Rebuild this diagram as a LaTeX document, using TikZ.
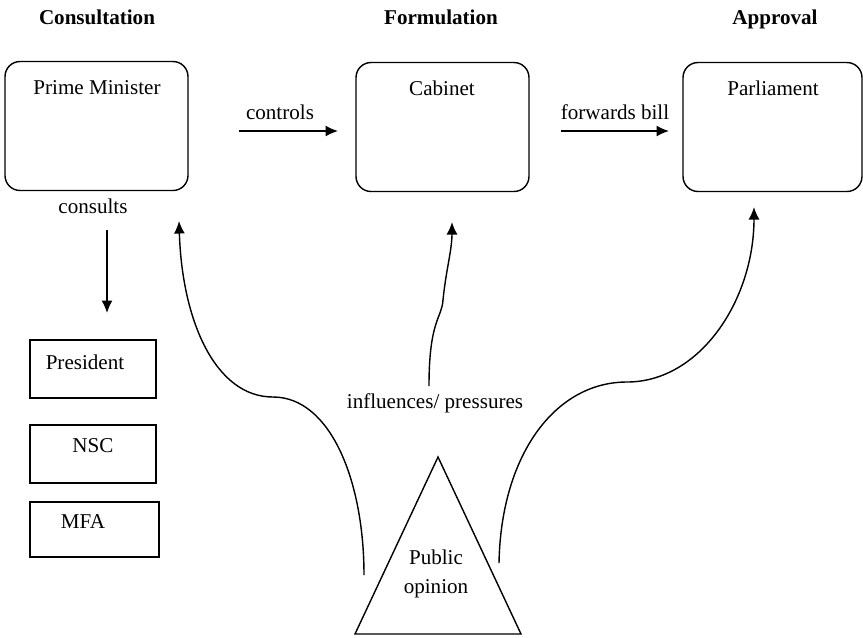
\documentclass[tikz,border=0pt]{standalone}
\usepackage{fontspec}
\setmainfont{Liberation Serif}
\usetikzlibrary{arrows.meta,positioning}

\begin{document}
\begin{tikzpicture}[x=0.02cm,y=-0.02cm,line width=0.8pt,font=\fontsize{12}{14}\selectfont,
        bigbox/.style={draw,rounded corners=0.3cm,minimum height=2.58cm},
        smallbox/.style={draw,minimum width=2.52cm,minimum height=1.16cm},
        head/.style={font=\fontsize{12}{14}\selectfont\bfseries,anchor=base},
        arr/.style={-{Latex[length=2.5mm,width=2.2mm]}}]%
        \useasboundingbox (0,0) rectangle (863,637); %%
        %% stage headings
        \node[head] (hcon) at (97,24)  {Consultation}; %%
        \node[head] (hfor) at (441,24)  {Formulation}; %%
        \node[head] (happ) at (775,24)  {Approval}; %%
        %% big boxes
        \node[bigbox,minimum width=3.66cm] (pm) at (96.5,126)  {}; %%
        \node[bigbox,minimum width=3.46cm] (cab) at (442.5,127)  {}; %%
        \node[bigbox,minimum width=3.58cm] (parl) at (772.5,127)  {}; %%
        \node (pmt) at (97,88)  {Prime Minister}; %%
        \node (cabt) at (442,88)  {Cabinet}; %%
        \node (parlt) at (773,88)  {Parliament}; %%
        %% advisers
        \node[smallbox] (pres) at (93,369)  {}; %%
        \node[smallbox] (nsc) at (93,454)  {}; %%
        \node[smallbox,minimum width=2.58cm,minimum height=1.1cm] (mfa) at (94.5,529.5)  {}; %%
        \node (prest) at (85,362)  {President}; %%
        \node (nsct) at (93,446)  {NSC}; %%
        \node (mfat) at (83,522)  {MFA}; %%
        %% labels
        \node (lcon) at (280,112)  {controls}; %%
        \node (lfwd) at (615,112)  {forwards bill}; %%
        \node (lcons) at (93,206)  {consults}; %%
        \node (linf) at (435,403)  {influences/ pressures}; %%
        %% public opinion
        \coordinate (tl) at (355,634); %%
        \coordinate (tt) at (438,457); %%
        \coordinate (tr) at (521,634); %%
        \draw (tl)--(tt)--(tr)--cycle; %%
        \node[align=center,font=\fontsize{12}{16.5}\selectfont] (pub) at (436,574)  {Public\\opinion}; %%
        %% straight arrows
        \coordinate (c1) at (239,131); \coordinate (c2) at (338,131); %%
        \coordinate (f1) at (561,131); \coordinate (f2) at (669,131); %%
        \coordinate (k1) at (107,230); \coordinate (k2) at (107,313); %%
        \draw[arr] (c1)--(c2); %%
        \draw[arr] (f1)--(f2); %%
        \draw[arr] (k1)--(k2); %%
        %% influence curves
        \coordinate (pl) at (364,575); \coordinate (pmin) at (179,221); %%
        \coordinate (pm2) at (429,386); \coordinate (cabin) at (452,222); %%
        \coordinate (pr) at (499,563); \coordinate (parlin) at (754,207); %%
        \draw[arr] (pl) .. controls (364,480) and (330,397) .. (273,397) .. controls (215,397) and (182,320) .. (pmin); %%
        \draw[arr] (pm2) .. controls (429,320) and (442,318) .. (443,300) .. controls (446,270) and (452,250) .. (cabin); %%
        \draw[arr] (pr) .. controls (501,455) and (555,382) .. (627,382) .. controls (700,382) and (754,300) .. (parlin); %%
        \end{tikzpicture}
\end{document}
